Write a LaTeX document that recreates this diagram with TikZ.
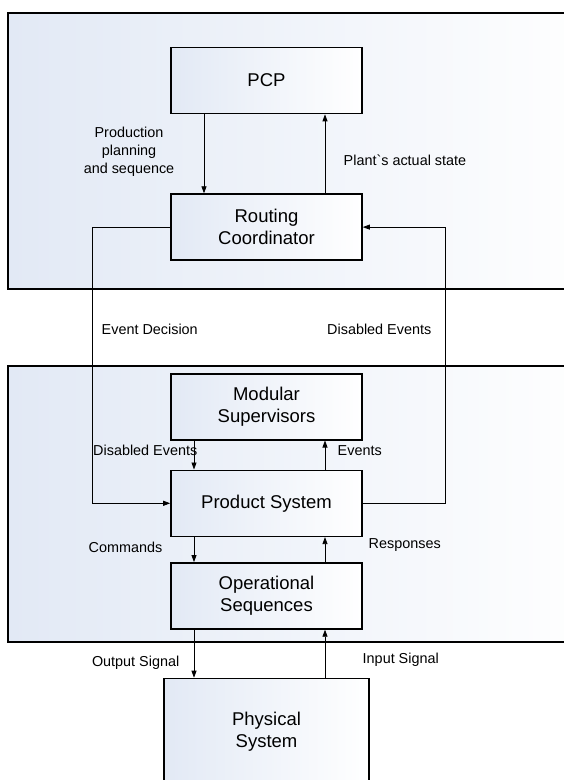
\documentclass[tikz,border=0pt]{standalone}
\usepackage{fontspec}
\setmainfont{Liberation Sans}
\usetikzlibrary{positioning,arrows.meta}
\definecolor{panelblue}{RGB}{226,233,245}

\begin{document}
\begin{tikzpicture}[
    x=1pt, y=-1pt,
    block/.style={rectangle, draw, line width=1.6pt, minimum width=191pt, minimum height=66pt,
      align=center, left color=panelblue, right color=white, font=\fontsize{18.5}{22.3}\selectfont},
    panel/.style={draw, line width=1.6pt, left color=panelblue, right color=white},
    lbl/.style={font=\fontsize{14.4}{18}\selectfont, align=center},
    flow/.style={-{Triangle[length=7pt,width=5pt]}, line width=0.8pt},
    ]
    \useasboundingbox (0,0) rectangle (563,780);

    % the two levels
    \path[panel] (8,13) rectangle (600,289);
    \path[panel] (8,366) rectangle (600,642);

    \node[block] (pcp) at (266.5,80.5) {PCP};
    \node[block, below=79pt of pcp] (rc) {Routing\\Coordinator};
    \node[block, below=112pt of rc] (ms) {Modular\\Supervisors};
    \node[block, below=29pt of ms] (ps) {Product System};
    \node[block, below=25pt of ps] (os) {Operational\\Sequences};
    \node[block, below=48pt of os, minimum width=205pt, minimum height=106pt] (phs) {Physical\\System};

    \coordinate (pa) at (204,0);
    \coordinate (dn) at (194,0);
    \coordinate (up) at (325,0);
    \coordinate (lft) at (92,0);
    \coordinate (rgt) at (445,0);

    % edges with labels
    \draw[flow] (pcp.south -| pa) -- node[lbl, pos=0.47, left=26pt] {Production\\planning\\and sequence} (rc.north -| pa);
    \draw[flow] (rc.north -| up) -- node[lbl, pos=0.42, right=15pt] {Plant\textasciigrave s actual state} (pcp.south -| up);

    \draw[flow] (rc.west) -- (rc.west -| lft) -- node[lbl, pos=0.37, right=6pt] {Event Decision} (ps.west -| lft) -- (ps.west);
    \draw[flow] (ps.east) -- (ps.east -| rgt) -- node[lbl, pos=0.63, left=10pt] {Disabled Events} (rc.east -| rgt) -- (rc.east);

    \draw[flow] (ms.south -| dn) -- node[lbl, pos=0.35, anchor=east, xshift=7pt] {Disabled Events} (ps.north -| dn);
    \draw[flow] (ps.north -| up) -- node[lbl, pos=0.65, right=9pt] {Events} (ms.south -| up);

    \draw[flow] (ps.south -| dn) -- node[lbl, pos=0.4, left=28pt] {Commands} (os.north -| dn);
    \draw[flow] (os.north -| up) -- node[lbl, pos=0.67, right=40pt] {Responses} (ps.south -| up);

    \draw[flow] (os.south -| dn) -- node[lbl, pos=0.68, left=11pt] {Output Signal} (phs.north -| dn);
    \draw[flow] (phs.north -| up) -- node[lbl, pos=0.38, right=34pt] {Input Signal} (os.south -| up);

  \end{tikzpicture}
\end{document}
